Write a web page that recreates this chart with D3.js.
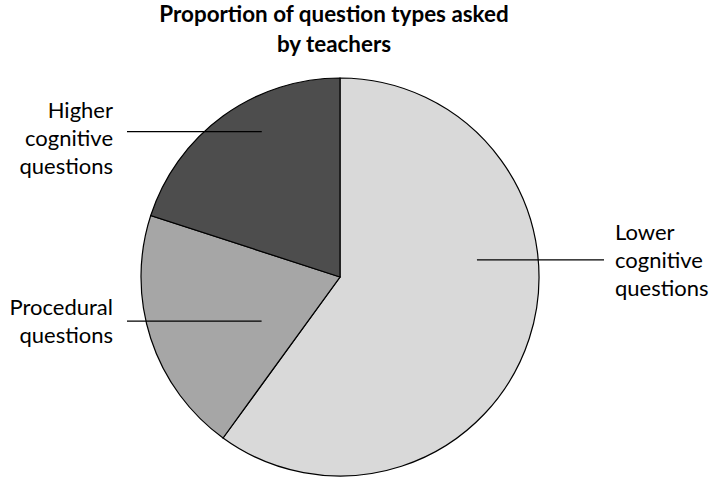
<!DOCTYPE html>
<html>
<head>
<meta charset="utf-8">
<script src="https://cdn.jsdelivr.net/npm/d3@7/dist/d3.min.js"></script>
<style>
  body { margin: 0; background: #fff; }
  text { font-family: Lato, "Open Sans", sans-serif; fill: #000; }
</style>
</head>
<body>
<svg width="709" height="477"></svg>
<script>
// chart data
const categories = ['Lower cognitive questions', 'Procedural questions', 'Higher cognitive questions'];
const values = [60, 20, 20];
const labelLines = [['Lower', 'cognitive', 'questions'], ['Procedural', 'questions'], ['Higher', 'cognitive', 'questions']];
const titleLines = ['Proportion of question types asked', 'by teachers'];

const svg = d3.select('svg'),
	width = +svg.attr('width'),
	height = +svg.attr('height');

const cx = 340, cy = 277, radius = 199;

const color = d3.scaleOrdinal()
	.domain(categories)
	.range(['#d9d9d9', '#a6a6a6', '#4d4d4d']);

const pie = d3.pie().sort(null).value(d => d.value);
const arc = d3.arc().innerRadius(0).outerRadius(radius);

const data = categories.map((c, i) => ({ name: c, value: values[i], lines: labelLines[i] }));
const arcs = pie(data);

// title
svg.append('g')
	.selectAll('text')
	.data(titleLines)
	.enter().append('text')
		.attr('x', 334)
		.attr('y', (d, i) => 22 + i * 30)
		.attr('text-anchor', 'middle')
		.attr('font-size', 22.4)
		.attr('font-weight', 'bold')
		.text(d => d);

const g = svg.append('g').attr('transform', `translate(${cx},${cy})`);

g.selectAll('path')
	.data(arcs)
	.enter().append('path')
		.attr('d', arc)
		.attr('fill', d => color(d.data.name))
		.attr('stroke', '#000')
		.attr('stroke-width', 1.2);

// leader lines + labels: polar anchor inside slice, horizontal line out to the label
const labelLayout = [
	{ r: 138, side: 1, outer: 264, gap: 11, firstDy: -20 },
	{ r: 90, side: -1, outer: 213, gap: 14, firstDy: -6 },
	{ r: 165, side: -1, outer: 213, gap: 14, firstDy: -14 }
];
const anchorAngle = [82.9, 240.6, 331.7];

arcs.forEach((a, i) => {
	const lay = labelLayout[i];
	const ang = anchorAngle[i] * Math.PI / 180;
	const x1 = lay.r * Math.sin(ang);
	const y1 = -lay.r * Math.cos(ang);
	const x2 = lay.side * lay.outer;

	g.append('line')
		.attr('x1', x1).attr('y1', y1)
		.attr('x2', x2).attr('y2', y1)
		.attr('stroke', '#000')
		.attr('stroke-width', 1.2);

	const lh = 28;
	const tx = x2 + lay.side * lay.gap;

	g.append('g')
		.selectAll('text')
		.data(a.data.lines)
		.enter().append('text')
			.attr('x', tx)
			.attr('y', (d, j) => y1 + lay.firstDy + j * lh)
			.attr('text-anchor', lay.side > 0 ? 'start' : 'end')
			.attr('font-size', 22)
			.text(d => d);
});
</script>
</body>
</html>
